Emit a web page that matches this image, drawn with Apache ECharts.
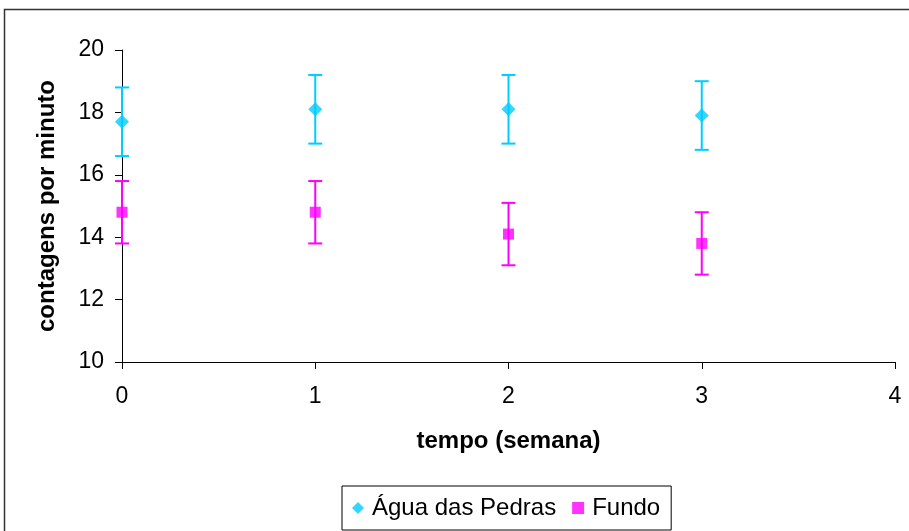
<!DOCTYPE html>
<html>
<head>
<meta charset="utf-8">
<script src="https://cdn.jsdelivr.net/npm/echarts@6/dist/echarts.min.js"></script>
<style>
  html, body { margin: 0; padding: 0; background: #fff; }
  #chart { width: 909px; height: 531px; }
</style>
</head>
<body>
<div id="chart"></div>
<script>
// Weeks of measurement
const weeks = [0, 1, 2, 3];
// Counts per minute, mean and half-width of the error bar
const aguaMean = [17.7, 18.1, 18.1, 17.9];
const aguaErr = [1.1, 1.1, 1.1, 1.1];
const fundoMean = [14.8, 14.8, 14.1, 13.8];
const fundoErr = [1.0, 1.0, 1.0, 1.0];
const seriesNames = ['Água das Pedras', 'Fundo'];
const colors = ['#00CCFF', '#FF00FF'];

const FONT = 'Liberation Sans, Arial, sans-serif';

function errorBars(name, means, errs, color) {
  const data = weeks.map((w, i) => [w, means[i] - errs[i], means[i] + errs[i]]);
  return {
    name: name + ' erro',
    type: 'custom',
    silent: true,
    z: 2,
    data: data,
    renderItem: function (params, api) {
      const x = api.value(0);
      const lo = api.coord([x, api.value(1)]);
      const hi = api.coord([x, api.value(2)]);
      const half = 7;
      const style = { stroke: color, lineWidth: 2 };
      return {
        type: 'group',
        children: [
          { type: 'line', shape: { x1: lo[0], y1: lo[1], x2: hi[0], y2: hi[1] }, style: style },
          { type: 'line', shape: { x1: hi[0] - half, y1: hi[1], x2: hi[0] + half, y2: hi[1] }, style: style },
          { type: 'line', shape: { x1: lo[0] - half, y1: lo[1], x2: lo[0] + half, y2: lo[1] }, style: style }
        ]
      };
    },
    encode: { x: 0, y: [1, 2] }
  };
}

const chart = echarts.init(document.getElementById('chart'), null, { renderer: 'canvas' });

chart.setOption({
  animation: false,
  backgroundColor: '#fff',
  textStyle: { fontFamily: FONT },
  graphic: [{
    type: 'rect',
    shape: { x: 4.5, y: 9.5, width: 1000, height: 1000 },
    style: { fill: 'none', stroke: '#333', lineWidth: 1.5 },
    silent: true,
    z: 0
  }],
  grid: { left: 122, right: 14, top: 50, bottom: 169 },
  xAxis: {
    type: 'value',
    min: 0, max: 4, interval: 1,
    name: 'tempo (semana)',
    nameLocation: 'middle',
    nameGap: 67,
    nameTextStyle: { fontSize: 24, fontWeight: 'bold', color: '#000', fontFamily: FONT, verticalAlign: 'top' },
    axisLine: { onZero: false, lineStyle: { color: '#000', width: 1 } },
    axisTick: { show: true, length: 7, inside: false, lineStyle: { color: '#000' } },
    axisLabel: { fontSize: 23, color: '#000', margin: 23, fontFamily: FONT },
    splitLine: { show: false }
  },
  yAxis: {
    type: 'value',
    min: 10, max: 20, interval: 2,
    name: 'contagens por minuto',
    nameLocation: 'middle',
    nameGap: 63,
    nameRotate: 90,
    nameTextStyle: { fontSize: 24, fontWeight: 'bold', color: '#000', fontFamily: FONT },
    axisLine: { show: true, lineStyle: { color: '#000', width: 1 } },
    axisTick: { show: true, length: 7, lineStyle: { color: '#000' } },
    axisLabel: { fontSize: 23, color: '#000', margin: 18, fontFamily: FONT },
    splitLine: { show: false }
  },
  legend: {
    data: [
      { name: seriesNames[0], icon: 'diamond' },
      { name: seriesNames[1], icon: 'rect' }
    ],
    left: 342,
    top: 486,
    orient: 'horizontal',
    padding: [10, 11, 10, 10],
    itemWidth: 12,
    itemHeight: 12,
    itemGap: 16,
    borderColor: '#000',
    borderWidth: 1,
    textStyle: { fontSize: 24, color: '#000', fontFamily: FONT, padding: [0, 0, 0, 3] }
  },
  series: [
    errorBars(seriesNames[0], aguaMean, aguaErr, colors[0]),
    errorBars(seriesNames[1], fundoMean, fundoErr, colors[1]),
    {
      name: seriesNames[0],
      type: 'scatter',
      symbol: 'diamond',
      symbolSize: 14,
      z: 3,
      itemStyle: { color: colors[0] },
      data: weeks.map((w, i) => [w, aguaMean[i]])
    },
    {
      name: seriesNames[1],
      type: 'scatter',
      symbol: 'rect',
      symbolSize: 11,
      z: 3,
      itemStyle: { color: colors[1] },
      data: weeks.map((w, i) => [w, fundoMean[i]])
    }
  ]
});
</script>
</body>
</html>
